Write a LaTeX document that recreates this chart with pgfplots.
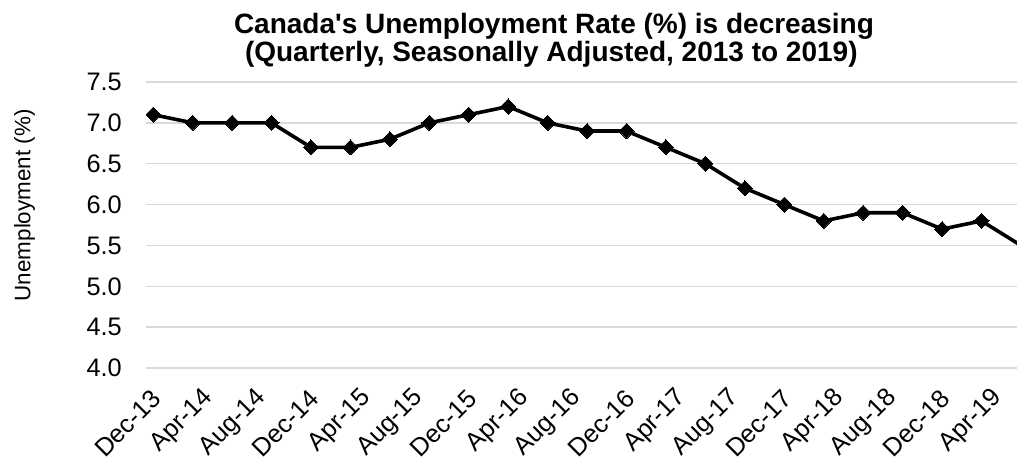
\documentclass[border=0pt]{standalone}
\usepackage{fontspec}
\setmainfont{Liberation Sans}[Ligatures=TeXOff]
\usepackage{pgfplots}
\pgfplotsset{compat=1.18}
\begin{document}
\begin{tikzpicture}
\begin{axis}[
  scale only axis,
  width=653.25pt, height=214.5pt,
  xmin=-0.55, xmax=65.7,
  ymin=4, ymax=7.5,
  axis line style={draw=none},
  tick style={draw=none},
  xtick={0,4,...,64},
  xticklabels={Dec-13,Apr-14,Aug-14,Dec-14,Apr-15,Aug-15,Dec-15,Apr-16,Aug-16,Dec-16,Apr-17,Aug-17,Dec-17,Apr-18,Aug-18,Dec-18,Apr-19},
  ytick={4,4.5,...,7.5},
  ymajorgrids,
  major grid style={draw=black!15, line width=1pt},
  /pgf/number format/assume math mode=true,
  yticklabel={\pgfmathprintnumber[fixed,fixed zerofill,precision=1]{\tick}},
  yticklabel style={anchor=east, inner sep=0pt, xshift=-18pt, font=\fontsize{19}{22}\selectfont},
  xticklabel style={xshift=2.7pt, yshift=-19.5pt, rotate=45, anchor=east, inner sep=0pt, font=\fontsize{19}{22}\selectfont},
  clip marker paths=true,
]
\addplot[black, line width=2.7pt, mark=square*, mark size=4pt, mark options={rotate=45, solid, fill=black, line width=0pt}]
 coordinates {
 (0,7.1) (3,7.0) (6,7.0) (9,7.0) (12,6.7) (15,6.7) (18,6.8) (21,7.0)
 (24,7.1) (27,7.2) (30,7.0) (33,6.9) (36,6.9) (39,6.7) (42,6.5) (45,6.2)
 (48,6.0) (51,5.8) (54,5.9) (57,5.9) (60,5.7) (63,5.8) (66,5.5)
 };
\end{axis}
\node[anchor=base, inner sep=0pt, font=\bfseries\fontsize{21}{23}\selectfont] at (306pt,250.5pt) {Canada's Unemployment Rate (\%) is decreasing};
\node[anchor=base, inner sep=0pt, font=\bfseries\fontsize{21}{23}\selectfont] at (304pt,229.5pt) {(Quarterly, Seasonally Adjusted, 2013 to 2019)};
\node[rotate=90, font=\fontsize{16.8}{19}\selectfont] at (-91pt,122pt) {Unemployment (\%)};
\pgfresetboundingbox
\useasboundingbox (-109.5pt,-69.75pt) rectangle (653.25pt,276pt);
\end{tikzpicture}
\end{document}
